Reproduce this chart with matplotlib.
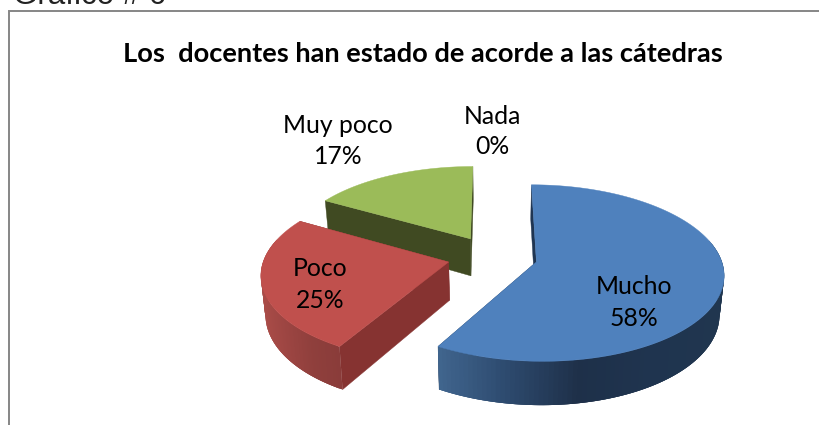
import numpy as np
import matplotlib
matplotlib.use("Agg")
import matplotlib.pyplot as plt
from matplotlib.collections import PolyCollection
from matplotlib.colors import LinearSegmentedColormap

# Data
categories = ["Mucho", "Poco", "Muy poco", "Nada"]
values = [58.3, 25.0, 16.7, 0.0]
title = "Los  docentes han estado de acorde a las cátedras"
caption = "Gráfico # 6"

# Styles
top_colors = {"Mucho": "#4f81bd", "Poco": "#c0504d", "Muy poco": "#9bbb59"}
radial_colors = {"Mucho": "#1f3552", "Poco": "#863331", "Muy poco": "#404a22"}
rim_ramps = {
    "Mucho": ["#41668f", "#2d4a6e", "#1e3049", "#1f344f", "#20364f"],
    "Poco": ["#aa4c48", "#9c4542", "#8f3f3c", "#8a3c3a"],
    "Muy poco": ["#6f8840", "#5f7537"],
}
label_xy = {"Mucho": (634, 302), "Poco": (320, 284), "Muy poco": (338, 140), "Nada": (492, 131)}

X0, Y0 = 492.5, 256.5
RX, RV, K = 184, 85.5, 0.125
EXPLODE, DEPTH, BOTTOM_SHRINK = 0.245, 38, 0.98

def project(u, v, bottom=False):
    p = 1.0 / (1.0 + K * v)
    if bottom:
        return X0 + RX * u * p * BOTTOM_SHRINK, Y0 - RV * v * p + DEPTH * p
    return X0 + RX * u * p, Y0 - RV * v * p

fig = plt.figure(figsize=(8.2, 4.25), dpi=100)
ax = fig.add_axes([0, 0, 1, 1])
ax.set_xlim(0, 820)
ax.set_ylim(425, 0)
ax.axis("off")

# Frame
ax.plot([820, 9, 9], [11, 11, 425], color="#868686", lw=1.4, solid_joinstyle="miter", zorder=1)

total = sum(values)
starts = np.cumsum([0] + values[:-1]) / total * 360.0
spans = np.array(values) / total * 360.0

# Painter's order: back slice first
order = [2, 1, 0]
z = 2
for i in order:
    name = categories[i]
    a0, a1 = starts[i], starts[i] + spans[i]
    mid = np.radians((a0 + a1) / 2)
    ou, ov = EXPLODE * np.sin(mid), EXPLODE * np.cos(mid)
    th = np.radians(np.linspace(a0, a1, 160))
    us, vs = ou + np.sin(th), ov + np.cos(th)
    tx, ty = project(us, vs)
    bx, by = project(us, vs, True)
    ax0, ay0 = project(ou, ov)
    bx0, by0 = project(ou, ov, True)

    # radial faces
    for j in (0, -1):
        ax.fill([ax0, tx[j], bx[j], bx0], [ay0, ty[j], by[j], by0],
                color=radial_colors[name], lw=0.3, zorder=z)
    z += 1
    # outer rim, visible on the front of the slice; overlapping quads hide seams
    cmap = LinearSegmentedColormap.from_list(name, rim_ramps[name])
    quads, cols = [], []
    xmin, xmax = tx.min(), tx.max()
    n = len(th)
    for j in range(n - 1):
        if np.cos((th[j] + th[j + 1]) / 2) < 0.25:
            idx = list(range(j, min(j + 4, n)))
            upper = [(tx[k], ty[k]) for k in idx]
            lower = [(bx[k], by[k]) for k in reversed(idx)]
            quads.append(upper + lower)
            cols.append(cmap((tx[j] - xmin) / (xmax - xmin)))
    if quads:
        ax.add_collection(PolyCollection(quads, facecolors=cols, edgecolors="none", zorder=z))
    z += 1
    # top face
    ax.fill(np.r_[ax0, tx], np.r_[ay0, ty], color=top_colors[name], lw=0.3, zorder=z)
    z += 1

# Labels
for name, val in zip(categories, values):
    x, y = label_xy[name]
    ax.text(x, y - 15, name, ha="center", va="center", fontsize=17.8, family="Lato", color="black", zorder=50)
    ax.text(x, y + 16, f"{round(val / total * 100)}%", ha="center", va="center", fontsize=17.8,
            family="Lato", color="black", zorder=50)

ax.text(423, 54, title, ha="center", va="center", fontsize=19.6, fontweight="bold", family="Lato", color="black", zorder=50)
ax.text(13, 4, caption, ha="left", va="baseline", fontsize=22.5, family="Liberation Sans", color="#222222", zorder=50)

fig.savefig("out.png", dpi=100)
